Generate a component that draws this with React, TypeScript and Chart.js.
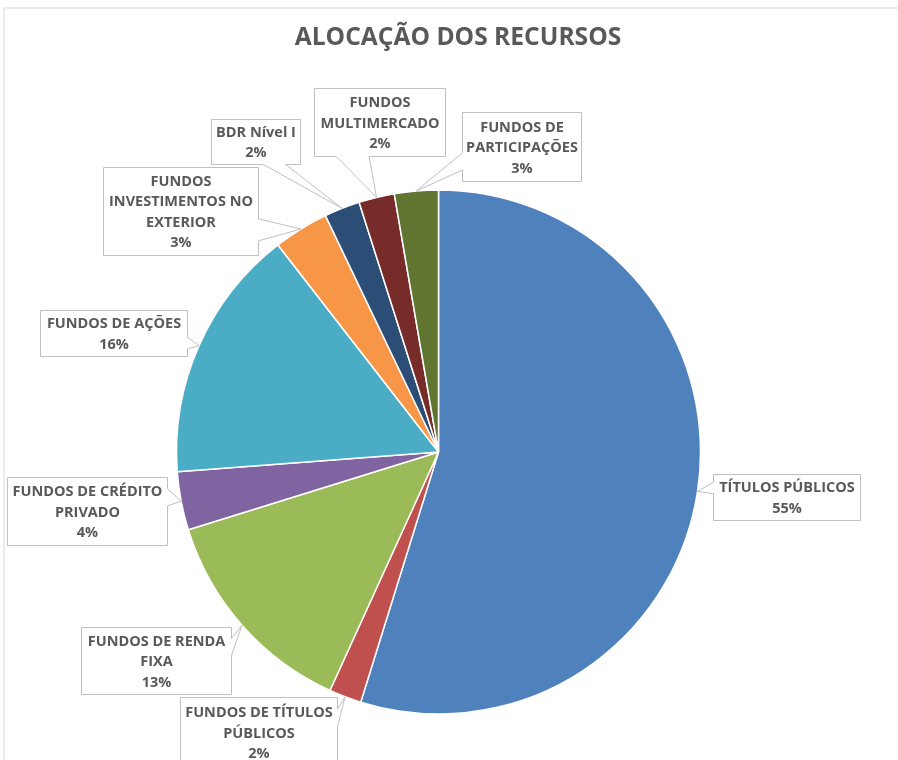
import React, { useEffect, useRef } from 'react';
import { Chart, registerables } from 'chart.js';

Chart.register(...registerables);

const TITLE = 'ALOCAÇÃO DOS RECURSOS';

const categories = [
  'TÍTULOS PÚBLICOS',
  'FUNDOS DE TÍTULOS PÚBLICOS',
  'FUNDOS DE RENDA FIXA',
  'FUNDOS DE CRÉDITO PRIVADO',
  'FUNDOS DE AÇÕES',
  'FUNDOS INVESTIMENTOS NO EXTERIOR',
  'BDR Nível I',
  'FUNDOS MULTIMERCADO',
  'FUNDOS DE PARTICIPAÇÕES',
];

const values = [54.8, 2.0, 13.4, 3.6, 15.7, 3.4, 2.2, 2.2, 2.7];

const colors = [
  '#4F81BD', '#C0504D', '#9BBB59', '#8064A2', '#4BACC6',
  '#F79646', '#2C4D75', '#772C2A', '#5F7530',
];

// Layout of the callout boxes, relative to the pie centre: [dx, dy, width, height]
const labelBoxes: number[][] = [
  [348, 45, 147, 46],
  [-180, 280, 157, 70],
  [-282.5, 208.5, 150, 67],
  [-351.5, 59, 160, 68],
  [-325, -119, 147, 46],
  [-258, -241, 155, 88],
  [-183, -310.5, 89, 45],
  [-59, -330, 131, 68],
  [83, -305.5, 119, 69],
];

const LABEL_FONT = 'bold 14.5px "Open Sans", sans-serif';
const TITLE_FONT = 'bold 24.6px "Open Sans", sans-serif';
const TEXT_COLOR = '#595959';
const BOX_BORDER = '#BFBFBF';
const LINE_H = 20.5;

function wrap(ctx: CanvasRenderingContext2D, text: string, maxW: number): string[] {
  const words = text.split(' ');
  const lines: string[] = [];
  let cur = '';
  for (const w of words) {
    const test = cur ? cur + ' ' + w : w;
    if (cur && ctx.measureText(test).width > maxW) {
      lines.push(cur);
      cur = w;
    } else {
      cur = test;
    }
  }
  if (cur) lines.push(cur);
  return lines;
}

const calloutPlugin = {
  id: 'callouts',
  afterDraw(chart: any) {
    const ctx: CanvasRenderingContext2D = chart.ctx;
    const W = chart.width;
    const H = chart.height;
    ctx.save();
    // frame
    ctx.fillStyle = '#EBEBEB';
    ctx.fillRect(3, 7, W - 3, 2);
    ctx.fillRect(3, 7, 2, H - 7);

    // title
    ctx.fillStyle = TEXT_COLOR;
    ctx.font = TITLE_FONT;
    ctx.textAlign = 'center';
    ctx.textBaseline = 'alphabetic';
    ctx.fillText(TITLE, 458, 45);

    const meta = chart.getDatasetMeta(0);
    const data: number[] = chart.data.datasets[0].data;
    const total = data.reduce((a, b) => a + b, 0);
    ctx.font = LABEL_FONT;

    meta.data.forEach((arc: any, i: number) => {
      const p = arc.getProps(['x', 'y', 'startAngle', 'endAngle', 'outerRadius'], true);
      const mid = (p.startAngle + p.endAngle) / 2;
      const tx = p.x + Math.cos(mid) * p.outerRadius;
      const ty = p.y + Math.sin(mid) * p.outerRadius;
      const [dx, dy, w, h] = labelBoxes[i];
      const l = Math.round(p.x + dx - w / 2) + 0.5;
      const t = Math.round(p.y + dy - h / 2) + 0.5;
      const r = l + Math.round(w);
      const b = t + Math.round(h);
      const cx = (l + r) / 2;
      const cy = (t + b) / 2;
      const px = tx - cx;
      const py = ty - cy;
      const vertical = Math.abs(py) > Math.abs((px * h) / w);
      const xg = px > 0 ? [7, 10] : [2, 5];
      const yg = py > 0 ? [7, 10] : [2, 5];
      const x1 = l + (w * xg[0]) / 12;
      const x2 = l + (w * xg[1]) / 12;
      const y1 = t + (h * yg[0]) / 12;
      const y2 = t + (h * yg[1]) / 12;

      ctx.beginPath();
      ctx.moveTo(l, t);
      if (vertical && py < 0) {
        ctx.lineTo(x1, t);
        ctx.lineTo(tx, ty);
        ctx.lineTo(x2, t);
      }
      ctx.lineTo(r, t);
      if (!vertical && px > 0) {
        ctx.lineTo(r, y1);
        ctx.lineTo(tx, ty);
        ctx.lineTo(r, y2);
      }
      ctx.lineTo(r, b);
      if (vertical && py > 0) {
        ctx.lineTo(x2, b);
        ctx.lineTo(tx, ty);
        ctx.lineTo(x1, b);
      }
      ctx.lineTo(l, b);
      if (!vertical && px < 0) {
        ctx.lineTo(l, y2);
        ctx.lineTo(tx, ty);
        ctx.lineTo(l, y1);
      }
      ctx.closePath();
      ctx.fillStyle = '#FFFFFF';
      ctx.fill();
      ctx.strokeStyle = BOX_BORDER;
      ctx.lineWidth = 1;
      ctx.stroke();

      const lines = wrap(ctx, chart.data.labels[i], w - 3);
      lines.push(Math.round((data[i] / total) * 100) + '%');
      ctx.fillStyle = TEXT_COLOR;
      ctx.textAlign = 'center';
      ctx.textBaseline = 'alphabetic';
      const n = lines.length;
      lines.forEach((ln, k) => {
        const yc = cy + (k - (n - 1) / 2) * LINE_H;
        ctx.fillText(ln, cx, yc + 5.2);
      });
    });
    ctx.restore();
  },
};

export default function App() {
  const ref = useRef<HTMLCanvasElement>(null);
  useEffect(() => {
    if (!ref.current) return;
    const chart = new Chart(ref.current, {
      type: 'pie',
      data: {
        labels: categories,
        datasets: [
          {
            data: values,
            backgroundColor: colors,
            borderColor: '#FFFFFF',
            borderWidth: 1.5,
            radius: 262,
          } as any,
        ],
      },
      options: {
        responsive: false,
        animation: false,
        devicePixelRatio: 1,
        layout: { padding: { left: 0, right: 21, top: 144, bottom: 0 } },
        plugins: {
          legend: { display: false },
          tooltip: { enabled: false },
          title: { display: false },
        },
      },
      plugins: [calloutPlugin],
    });
    return () => chart.destroy();
  }, []);
  return (
    <div style={{ position: 'absolute', left: 0, top: 0, width: 898, height: 760, background: '#FFFFFF' }}>
      <canvas ref={ref} width={898} height={760} style={{ display: 'block' }} />
    </div>
  );
}
